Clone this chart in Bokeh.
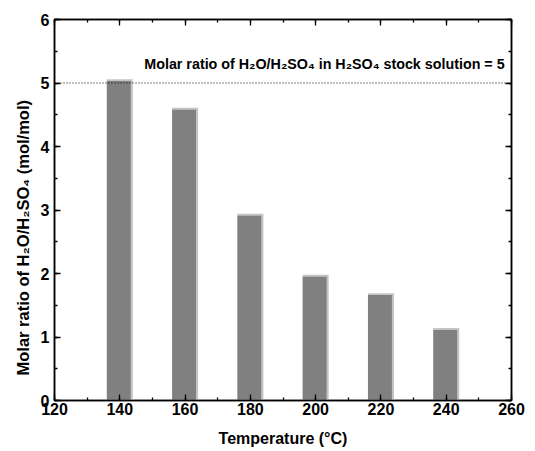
from bokeh.plotting import figure
from bokeh.models import (Span, Label, LinearAxis, ColumnDataSource, SingleIntervalTicker,
                          Range1d, CustomJSTickFormatter, Title)
from bokeh.transform import dodge
from bokeh.embed import file_html
from bokeh.resources import INLINE

temperature = [140, 160, 180, 200, 220, 240]
molar_ratio = [5.03, 4.58, 2.91, 1.95, 1.66, 1.11]
stock_ratio = 5

FONT = "Liberation Sans"

src = ColumnDataSource(dict(x=temperature, top=molar_ratio,
                            top_s=[v + 0.03 for v in molar_ratio]))

p = figure(width=535, height=451, output_backend="svg", toolbar_location=None,
           x_range=Range1d(120, 260), y_range=Range1d(0, 6),
           min_border_left=54, min_border_right=24, min_border_top=19, min_border_bottom=51)
p.xaxis.visible = False
p.yaxis.visible = False
p.grid.visible = False
p.outline_line_color = "black"
p.outline_line_width = 1.5
p.background_fill_color = "white"
p.border_fill_color = "white"

def style(ax):
    ax.axis_line_width = 1.5
    ax.major_tick_in = 6
    ax.major_tick_out = 0
    ax.minor_tick_in = 3
    ax.minor_tick_out = 0
    ax.major_tick_line_width = 1.3
    ax.minor_tick_line_width = 1.3
    ax.major_label_text_font = FONT
    ax.major_label_text_font_style = "bold"
    ax.major_label_text_font_size = "16px"
    ax.major_label_text_color = "black"
    ax.axis_label_text_font = FONT
    ax.axis_label_text_font_style = "bold"
    ax.axis_label_text_font_size = "16px"
    ax.axis_label_text_color = "black"

xb = LinearAxis(ticker=SingleIntervalTicker(interval=20, num_minor_ticks=2),
                axis_label="Temperature (°C)")
style(xb)
xb.major_label_standoff = 2
xb.axis_label_standoff = 12
p.add_layout(xb, "below")

yl = LinearAxis(ticker=SingleIntervalTicker(interval=1, num_minor_ticks=2))
style(yl)
yl.major_label_standoff = 5
p.add_layout(yl, "left")

blank = CustomJSTickFormatter(code="return ''")
xt = LinearAxis(ticker=SingleIntervalTicker(interval=20, num_minor_ticks=2), formatter=blank)
style(xt)
xt.major_label_standoff = 0
p.add_layout(xt, "above")

yr = LinearAxis(ticker=SingleIntervalTicker(interval=1, num_minor_ticks=2), formatter=blank)
style(yr)
yr.major_label_standoff = 0
p.add_layout(yr, "right")

p.add_layout(Title(text="Molar ratio of H₂O/H₂SO₄ (mol/mol)", align="left", offset=25,
                   text_font=FONT, text_font_style="bold", text_font_size="16.5px",
                   text_color="black", standoff=12), "left")

p.vbar(x="x", top="top_s", width=8, source=src,
       fill_color="#c4c4c4", line_color=None)
p.vbar(x=dodge("x", -0.3, range=p.x_range), top="top", width=7.3, source=src,
       fill_color="#808080", line_color=None)

p.add_layout(Span(location=stock_ratio, dimension="width", line_color="black",
                  line_dash="1 2", line_width=1.2))

p.add_layout(Label(x=147.5, y=5.3, text="Molar ratio of H₂O/H₂SO₄ in H₂SO₄ stock solution = 5",
                   text_font=FONT, text_font_style="bold", text_font_size="14.3px",
                   text_baseline="middle", text_color="black"))

open("out.html", "w").write(file_html(p, INLINE))
